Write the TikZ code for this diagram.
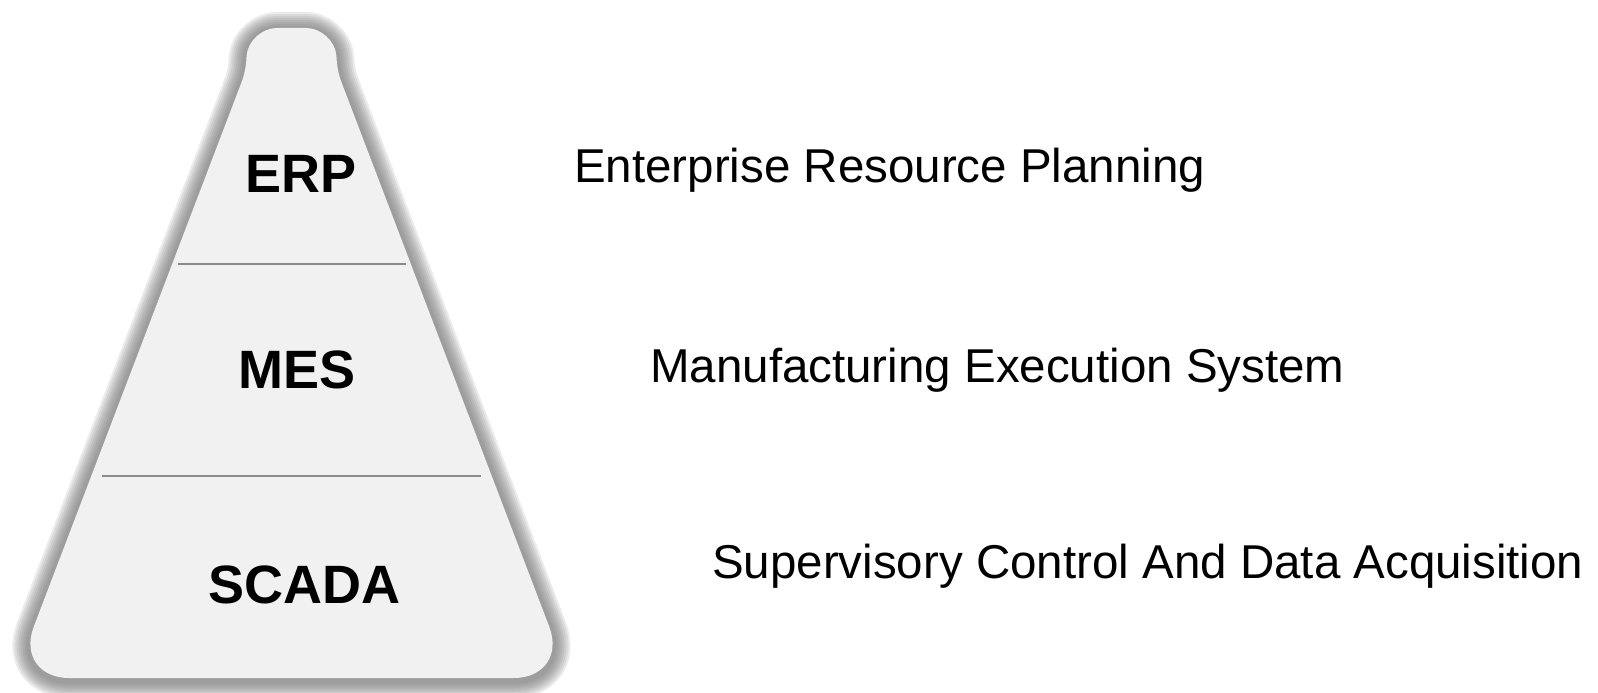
\documentclass[tikz,border=0pt]{standalone}
\usepackage{fontspec}
\setmainfont{Liberation Sans}
\definecolor{fillgray}{HTML}{F1F1F1}
\definecolor{shadowgray}{HTML}{707070}
\definecolor{linegray}{HTML}{8A8A8A}
\newcommand\pyrshape[1]{\path[#1] (69.2,678) .. controls (38.95,678) and (23.0,654.9) .. (33.8,626.6) -- (241.9,81.3) .. controls (243.9,76.2) and (245.8,67.5) .. (246.2,62.0) -- (246.6,55.9) .. controls (247.6,40.5) and (262.75,28) .. (276.5,28) -- (306.5,28) .. controls (320.25,28) and (335.4,40.5) .. (336.4,55.9) -- (336.8,62.0) .. controls (337.2,67.5) and (339.1,76.2) .. (341.1,81.3) -- (549.2,626.6) .. controls (560.0,654.9) and (544.05,678) .. (513.8,678) -- cycle;}
\tikzset{
  glow/.style={draw=shadowgray, draw opacity=0.13, line join=round, yshift=-2pt},
  divider/.style={draw=linegray, line width=2.2pt},
  level/.style={font=\bfseries\fontsize{54}{60}\selectfont, text=black, anchor=base, inner sep=0pt},
  desc/.style={font=\fontsize{47.5}{56}\selectfont, text=black, anchor=base west, inner sep=0pt}
}
\begin{document}
\begin{tikzpicture}[x=1pt,y=-1pt]
\useasboundingbox[fill=white] (0,0) rectangle (1598,693);
\foreach \w in {36,32,28,24,20,16,12,8}{\pyrshape{glow, line width=\w pt}}
\pyrshape{fill=fillgray}
\draw[divider] (178,264) -- (406,264);
\draw[divider] (102,476) -- (481,476);
\node[level] (erp) at (301,192) {ERP};
\node[level] (mes) at (297,388) {MES};
\node[level] (scada) at (304.5,603) {SCADA};
\node[desc] (erpd) at (574,182) {Enterprise Resource Planning};
\node[desc] (mesd) at (650,382) {Manufacturing Execution System};
\node[desc] (scadad) at (712,578) {Supervisory Control And Data Acquisition};
\end{tikzpicture}
\end{document}
